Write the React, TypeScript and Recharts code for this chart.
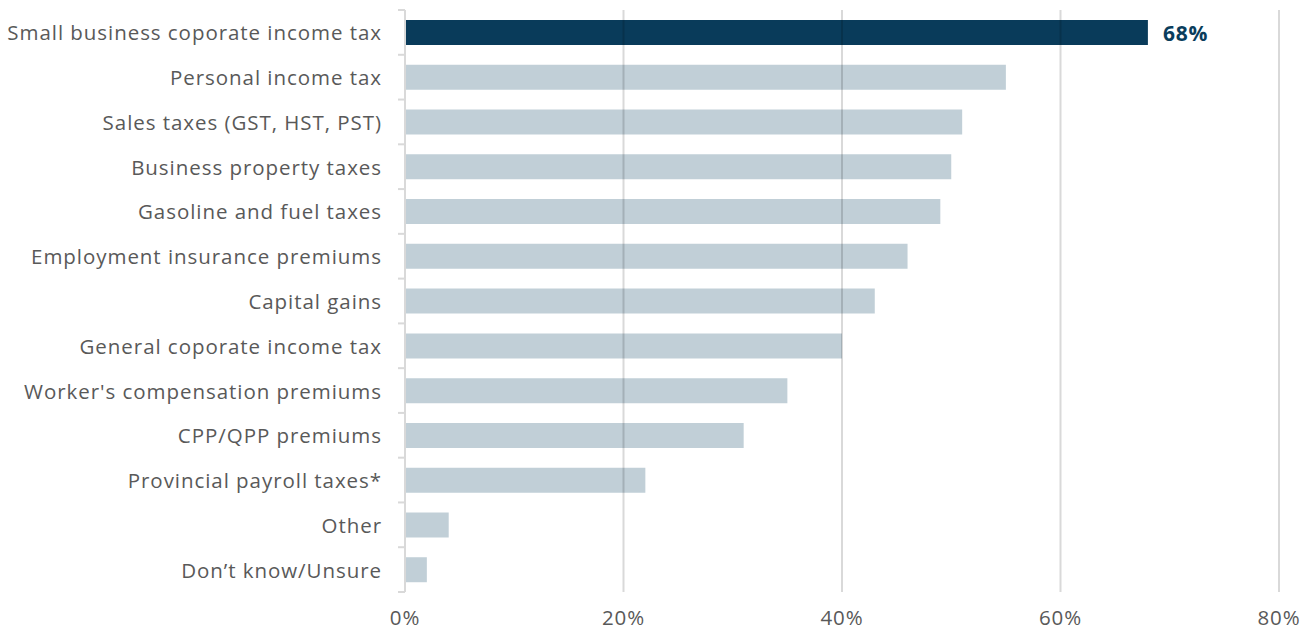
import React from 'react';
import {
  BarChart,
  Bar,
  Cell,
  XAxis,
  YAxis,
  ReferenceLine,
  LabelList,
} from 'recharts';

const categories = [
  'Small business coporate income tax',
  'Personal income tax',
  'Sales taxes (GST, HST, PST)',
  'Business property taxes',
  'Gasoline and fuel taxes',
  'Employment insurance premiums',
  'Capital gains',
  'General coporate income tax',
  "Worker's compensation premiums",
  'CPP/QPP premiums',
  'Provincial payroll taxes*',
  'Other',
  'Don\u2019t know/Unsure',
];

const shares = [68, 55, 51, 50, 49, 46, 43, 40, 35, 31, 22, 4, 2];

const xTicks = [0, 20, 40, 60, 80];

const data = categories.map((name, i) => ({ name, value: shares[i] }));

const W = 1313;
const H = 632;
const TOP = 10;
const BOTTOM = 40;
const BAND = (H - TOP - BOTTOM) / categories.length;
const FONT = '"Open Sans", sans-serif';

const CategoryTick = (props: any) => {
  const { x, y, payload, index } = props;
  const axisX = x + 23;
  return (
    <g>
      <text
        x={x}
        y={y}
        textAnchor="end"
        dominantBaseline="central"
        fontFamily={FONT}
        fontSize={20.5}
        letterSpacing={0.95}
        fill="#595959"
      >
        {payload.value}
      </text>
      <line x1={axisX - 7} x2={axisX} y1={y - BAND / 2} y2={y - BAND / 2} stroke="#d9d9d9" strokeWidth={2} />
      {index === categories.length - 1 && (
        <line x1={axisX - 7} x2={axisX} y1={y + BAND / 2} y2={y + BAND / 2} stroke="#d9d9d9" strokeWidth={2} />
      )}
    </g>
  );
};

const TopLabel = (props: any) => {
  const { x, y, width, height, value, index } = props;
  if (index !== 0) return null;
  return (
    <text
      x={x + width + 15}
      y={y + height / 2}
      dominantBaseline="central"
      fontFamily={FONT}
      fontSize={21}
      fontWeight={700}
      letterSpacing={0.8}
      fill="#0a3d5c"
    >
      {value}%
    </text>
  );
};

export default function App() {
  return (
    <div style={{ position: 'absolute', left: 0, top: 0, width: W, height: H, background: '#fff' }}>
      <BarChart
        width={W}
        height={H}
        data={data}
        layout="vertical"
        margin={{ top: TOP, right: 34, bottom: 0, left: 0 }}
      >
        <XAxis
          type="number"
          domain={[0, 80]}
          ticks={xTicks}
          tickFormatter={(v) => `${v}%`}
          axisLine={false}
          tickLine={false}
          height={BOTTOM}
          tick={{ fill: '#595959', fontFamily: FONT, fontSize: 20.5, letterSpacing: 0.8, dy: 10 }}
          interval={0}
        />
        <YAxis
          type="category"
          dataKey="name"
          width={405}
          axisLine={{ stroke: '#d9d9d9', strokeWidth: 2 }}
          tickLine={false}
          tickSize={3}
          tickMargin={20}
          tick={<CategoryTick />}
          interval={0}
        />
        <Bar dataKey="value" barSize={25} isAnimationActive={false}>
          {data.map((d, i) => (
            <Cell key={d.name} fill={i === 0 ? '#093b5a' : '#c1cfd7'} />
          ))}
          <LabelList dataKey="value" content={<TopLabel />} />
        </Bar>
        {xTicks.slice(1).map((t) => (
          <ReferenceLine key={t} x={t} stroke="rgba(0,0,0,0.15)" strokeWidth={2} />
        ))}
      </BarChart>
    </div>
  );
}
